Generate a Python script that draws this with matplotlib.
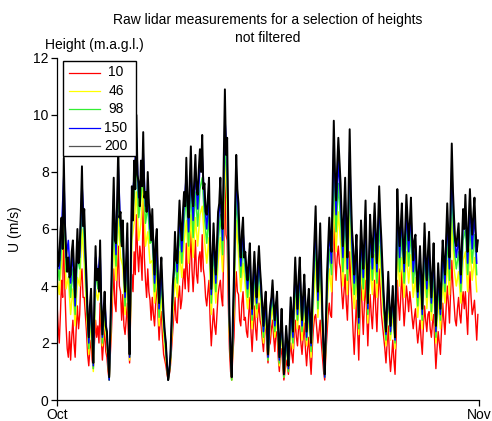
import matplotlib
matplotlib.use("Agg")
import matplotlib.pyplot as plt
import matplotlib.dates as mdates
from matplotlib.lines import Line2D
from matplotlib.patches import Rectangle
import pandas as pd

plt.rcParams['font.family'] = ['Liberation Sans', 'DejaVu Sans']

# Wind speed (m/s) through October, one row per day.
# 10 m and 200 m are 2-hourly; 46, 98 and 150 m are 4-hourly.
u10 = [
    3.4, 2.6, 2.0, 3.0, 4.2, 3.6, 6.4, 3.8, 2.6, 1.8, 1.5, 2.4,
    1.4, 2.2, 2.8, 2.0, 1.5, 2.6, 3.3, 2.5, 3.0, 4.2, 4.6, 3.6,
    3.6, 3.0, 2.4, 1.6, 1.2, 1.8, 2.1, 1.4, 1.1, 2.0, 2.8, 2.2,
    2.6, 2.0, 3.4, 2.2, 1.4, 2.0, 2.5, 1.7, 1.5, 1.0, 0.7, 1.6,
    2.4, 3.6, 4.6, 3.4, 3.1, 4.4, 5.4, 4.0, 3.8, 2.8, 3.7, 2.6,
    2.3, 2.8, 3.4, 2.2, 1.3, 3.2, 4.4, 3.8, 5.2, 4.4, 6.5, 5.2,
    4.5, 5.4, 5.0, 4.2, 7.3, 5.0, 4.2, 3.6, 4.6, 3.8, 3.5, 2.8,
    3.6, 3.0, 2.6, 3.4, 4.3, 3.0, 2.1, 2.8, 3.1, 2.2, 1.6, 1.4,
    1.2, 0.9, 0.7, 0.9, 1.2, 1.8, 2.4, 3.0, 3.6, 2.8, 2.7, 3.6,
    4.0, 3.2, 3.5, 4.2, 4.6, 3.9, 5.5, 4.4, 3.8, 4.8, 6.0, 4.6,
    3.8, 4.6, 5.6, 4.4, 4.1, 5.0, 5.2, 4.5, 5.8, 4.6, 4.3, 3.6,
    3.3, 3.8, 4.2, 2.8, 1.9, 2.6, 3.2, 2.6, 2.3, 3.0, 3.7, 4.0,
    4.2, 3.6, 3.3, 5.2, 8.0, 5.8, 5.6, 3.4, 1.8, 1.0, 0.7, 1.6,
    2.2, 3.6, 4.5, 3.8, 3.7, 2.8, 2.6, 3.4, 3.8, 2.8, 2.9, 2.4,
    2.2, 3.0, 3.6, 2.4, 1.7, 2.6, 3.3, 2.5, 2.1, 3.0, 3.4, 2.8,
    2.6, 2.1, 1.7, 2.4, 2.8, 1.8, 1.3, 1.9, 2.0, 2.5, 2.8, 2.2,
    1.7, 2.4, 2.3, 1.5, 1.0, 1.6, 1.8, 1.2, 0.7, 1.0, 1.4, 1.2,
    0.9, 1.5, 2.0, 1.6, 1.3, 2.2, 2.8, 2.2, 1.9, 2.6, 2.6, 2.0,
    1.6, 2.2, 2.7, 1.8, 1.2, 1.8, 2.2, 1.5, 0.9, 1.8, 2.5, 2.9,
    3.0, 2.5, 2.0, 2.4, 2.8, 2.0, 1.5, 1.0, 0.7, 1.6, 2.3, 3.0,
    3.4, 3.0, 2.9, 4.6, 6.6, 5.0, 4.2, 5.0, 5.4, 4.8, 4.6, 3.8,
    3.2, 3.8, 4.4, 3.4, 2.8, 4.0, 5.2, 4.2, 3.4, 2.4, 1.6, 2.6,
    3.5, 2.4, 1.4, 2.8, 4.3, 3.2, 2.3, 3.4, 4.2, 3.0, 1.9, 3.0,
    3.7, 3.0, 2.5, 3.4, 4.2, 3.2, 2.4, 3.6, 4.6, 3.8, 3.0, 2.6,
    2.2, 1.8, 1.3, 2.0, 2.6, 1.6, 1.0, 1.5, 2.1, 1.4, 0.9, 2.2,
    4.2, 3.4, 2.8, 3.6, 4.6, 3.4, 2.6, 3.2, 4.0, 3.6, 3.1, 3.8,
    3.4, 2.9, 2.5, 2.9, 3.2, 2.5, 2.0, 2.4, 2.8, 2.1, 1.6, 2.6,
    3.3, 2.8, 2.4, 3.0, 3.1, 2.5, 2.2, 2.7, 3.0, 2.0, 1.1, 1.8,
    2.4, 2.0, 1.6, 2.5, 3.4, 2.8, 2.3, 3.2, 4.0, 3.4, 2.7, 3.8,
    4.9, 4.0, 3.4, 2.8, 2.6, 3.2, 3.6, 3.0, 2.7, 3.4, 3.8, 3.2,
    3.8, 3.0, 2.3, 3.6, 4.5, 3.6, 3.0, 3.2, 3.5, 2.8, 2.1, 3.0,
]

u46 = [
    4.3, 3.7, 4.8, 6.9, 3.9, 4.3,
    3.0, 3.9, 2.6, 4.3, 4.0, 6.0,
    4.8, 3.2, 1.6, 2.9, 1.0, 3.9,
    3.5, 4.1, 1.9, 2.8, 2.0, 0.7,
    3.2, 5.7, 4.2, 6.5, 5.0, 4.7,
    3.0, 4.6, 1.4, 5.6, 6.2, 7.3,
    5.6, 6.2, 7.6, 5.4, 5.9, 4.8,
    4.9, 3.4, 4.4, 2.6, 3.7, 2.3,
    1.5, 0.7, 1.3, 3.0, 4.3, 3.6,
    5.2, 4.3, 5.5, 6.3, 4.8, 6.5,
    5.0, 6.4, 5.4, 6.5, 6.8, 5.6,
    4.8, 5.7, 3.0, 4.6, 3.4, 4.8,
    5.7, 4.5, 8.6, 6.8, 2.3, 0.7,
    3.3, 6.3, 5.1, 3.8, 4.8, 4.0,
    3.2, 4.2, 2.5, 3.9, 2.9, 4.0,
    3.2, 2.0, 3.0, 1.4, 2.6, 3.3,
    2.2, 2.9, 1.2, 2.5, 0.8, 2.0,
    1.0, 2.7, 1.8, 3.7, 2.5, 3.6,
    2.1, 3.3, 1.9, 3.0, 1.5, 3.3,
    4.8, 2.9, 4.4, 2.3, 0.8, 3.2,
    4.6, 3.8, 7.2, 5.2, 6.6, 5.5,
    4.0, 5.6, 3.7, 6.8, 4.3, 3.2,
    4.2, 2.3, 4.6, 3.5, 5.0, 2.7,
    4.7, 3.7, 5.1, 3.6, 5.4, 4.1,
    2.9, 1.9, 3.4, 2.1, 3.1, 1.8,
    5.3, 4.0, 5.0, 3.6, 5.2, 4.1,
    5.1, 3.6, 4.3, 2.9, 4.0, 2.5,
    4.5, 3.2, 4.3, 2.8, 4.0, 2.0,
    3.5, 2.5, 4.1, 3.4, 4.9, 3.7,
    6.4, 4.6, 4.0, 4.5, 3.4, 4.9,
    5.2, 3.8, 5.3, 4.2, 5.0, 3.8,
]

u98 = [
    4.9, 4.2, 5.4, 7.2, 4.5, 5.0,
    3.6, 4.6, 3.0, 5.0, 4.6, 6.9,
    5.6, 3.6, 1.8, 3.3, 1.1, 4.5,
    3.9, 4.7, 2.0, 3.2, 2.2, 0.7,
    3.6, 6.5, 4.7, 7.5, 5.6, 5.3,
    3.3, 5.2, 1.5, 6.3, 7.1, 8.4,
    6.4, 7.1, 7.9, 6.2, 6.8, 5.5,
    5.6, 3.8, 5.0, 2.9, 4.2, 2.6,
    1.7, 0.7, 1.4, 3.4, 4.9, 4.1,
    5.9, 4.8, 6.2, 7.2, 5.4, 7.4,
    5.7, 7.3, 6.1, 7.4, 7.8, 6.4,
    5.5, 6.5, 3.4, 5.3, 3.8, 5.5,
    6.5, 5.1, 9.0, 7.7, 2.6, 0.7,
    3.7, 7.2, 5.8, 4.3, 5.4, 4.5,
    3.6, 4.7, 2.8, 4.4, 3.2, 4.6,
    3.5, 2.2, 3.3, 1.4, 2.9, 3.6,
    2.4, 3.2, 1.3, 2.8, 0.8, 2.2,
    1.0, 3.0, 2.0, 4.2, 2.8, 4.2,
    2.4, 3.7, 2.1, 3.3, 1.7, 3.8,
    5.6, 3.2, 5.1, 2.6, 0.8, 3.6,
    5.3, 4.4, 8.1, 5.9, 7.6, 6.3,
    4.5, 6.5, 4.2, 7.8, 5.0, 3.7,
    4.8, 2.5, 5.2, 3.9, 5.8, 3.0,
    5.4, 4.2, 5.8, 4.1, 6.2, 4.7,
    3.2, 2.1, 3.8, 2.3, 3.4, 2.0,
    6.1, 4.5, 5.8, 4.1, 6.0, 4.7,
    5.9, 4.1, 4.9, 3.3, 4.6, 2.8,
    5.2, 3.6, 4.9, 3.1, 4.6, 2.2,
    4.0, 2.8, 4.7, 3.8, 5.7, 4.2,
    7.4, 5.3, 4.6, 5.2, 3.8, 5.6,
    6.0, 4.4, 6.1, 4.8, 5.8, 4.4,
]

u150 = [
    5.4, 4.6, 6.0, 7.9, 5.0, 5.6,
    4.1, 5.2, 3.3, 5.6, 5.0, 7.6,
    6.2, 4.0, 2.0, 3.6, 1.2, 5.0,
    4.3, 5.2, 2.2, 3.5, 2.3, 0.7,
    3.9, 7.2, 5.1, 8.2, 6.1, 5.8,
    3.6, 5.7, 1.5, 7.0, 7.8, 9.2,
    7.1, 7.8, 8.7, 6.8, 7.4, 6.0,
    6.2, 4.1, 5.5, 3.2, 4.6, 2.8,
    1.9, 0.7, 1.5, 3.7, 5.4, 4.5,
    6.5, 5.2, 6.8, 7.9, 5.9, 8.2,
    6.3, 8.0, 6.7, 8.2, 8.6, 7.0,
    6.0, 7.2, 3.7, 5.8, 4.1, 6.1,
    7.2, 5.6, 9.9, 8.5, 2.8, 0.8,
    4.1, 7.9, 6.4, 4.7, 5.9, 4.9,
    3.9, 5.1, 3.0, 4.8, 3.4, 5.0,
    3.8, 2.4, 3.5, 1.5, 3.1, 3.9,
    2.6, 3.5, 1.4, 3.0, 0.9, 2.4,
    1.1, 3.3, 2.2, 4.6, 3.0, 4.6,
    2.6, 4.1, 2.2, 3.6, 1.9, 4.2,
    6.2, 3.5, 5.7, 2.8, 0.8, 4.0,
    5.9, 4.8, 9.0, 6.5, 8.4, 7.0,
    5.0, 7.2, 4.6, 8.7, 5.5, 4.1,
    5.3, 2.7, 5.8, 4.3, 6.4, 3.2,
    6.0, 4.6, 6.4, 4.5, 6.9, 5.2,
    3.5, 2.3, 4.2, 2.4, 3.7, 2.1,
    6.8, 5.0, 6.4, 4.5, 6.6, 5.2,
    6.5, 4.5, 5.4, 3.6, 5.0, 3.0,
    5.7, 3.9, 5.4, 3.4, 5.1, 2.4,
    4.4, 3.0, 5.2, 4.1, 6.3, 4.6,
    8.2, 5.9, 5.0, 5.7, 4.1, 6.2,
    6.6, 4.8, 6.8, 5.3, 6.5, 4.8,
]

u200 = [
    5.8, 4.7, 4.9, 5.9, 6.4, 5.3, 8.5, 6.2, 5.3, 4.5, 5.0, 4.3,
    4.4, 5.2, 5.6, 4.6, 3.6, 4.9, 6.0, 4.8, 5.4, 6.6, 8.2, 6.1,
    6.7, 5.4, 4.3, 3.0, 2.2, 3.3, 3.9, 2.4, 1.3, 3.8, 5.4, 4.2,
    4.6, 3.8, 5.6, 3.4, 2.3, 3.1, 3.8, 2.6, 2.4, 1.6, 0.8, 2.5,
    4.2, 6.2, 7.8, 5.6, 5.5, 7.0, 8.9, 6.4, 6.6, 5.4, 6.3, 4.6,
    3.8, 5.0, 6.2, 3.4, 1.6, 4.8, 7.5, 6.3, 8.4, 7.4, 10.0, 7.9,
    7.6, 6.8, 8.4, 7.5, 9.4, 7.1, 7.3, 6.6, 8.0, 6.9, 6.5, 5.6,
    6.7, 5.3, 4.4, 5.6, 6.0, 4.2, 3.4, 4.4, 5.0, 3.9, 3.0, 2.4,
    2.0, 1.2, 0.7, 1.0, 1.6, 2.8, 4.0, 4.6, 5.9, 4.9, 4.8, 6.0,
    7.0, 6.1, 5.6, 6.6, 7.3, 6.8, 8.5, 7.0, 6.4, 7.6, 8.9, 7.2,
    6.8, 7.7, 8.6, 7.4, 7.2, 8.1, 8.8, 8.0, 9.3, 7.4, 7.6, 6.6,
    6.5, 7.1, 7.8, 5.6, 3.9, 5.0, 6.2, 5.2, 4.4, 5.5, 6.6, 6.9,
    7.8, 6.5, 6.0, 8.4, 10.9, 8.6, 9.2, 6.0, 3.0, 1.6, 0.8, 2.8,
    4.4, 6.8, 8.6, 7.4, 6.9, 5.6, 5.0, 5.9, 6.4, 5.0, 5.2, 4.6,
    4.2, 4.9, 5.5, 4.1, 3.2, 4.4, 5.2, 4.3, 3.6, 4.7, 5.4, 4.6,
    4.0, 3.3, 2.6, 3.4, 3.8, 2.7, 1.6, 2.8, 3.3, 3.6, 4.2, 3.4,
    2.8, 3.4, 3.8, 2.5, 1.5, 2.4, 3.2, 2.0, 0.9, 1.8, 2.6, 2.0,
    1.2, 2.5, 3.6, 3.0, 2.4, 3.8, 5.0, 4.0, 3.2, 4.3, 5.0, 3.8,
    2.8, 3.7, 4.4, 3.4, 2.4, 3.4, 3.9, 3.0, 2.0, 3.5, 4.6, 5.6,
    6.8, 5.0, 3.8, 5.0, 6.2, 4.6, 3.0, 1.8, 0.9, 2.6, 4.4, 5.4,
    6.4, 5.6, 5.2, 7.4, 9.8, 8.0, 7.0, 8.2, 9.2, 8.4, 7.6, 6.4,
    5.4, 6.6, 7.8, 6.2, 5.0, 7.2, 9.5, 7.4, 6.0, 5.4, 4.4, 5.0,
    5.8, 4.4, 2.9, 4.8, 6.3, 5.4, 4.6, 5.8, 7.0, 5.0, 3.4, 5.0,
    6.5, 5.6, 5.0, 6.0, 6.9, 5.8, 4.8, 6.2, 7.5, 6.4, 5.6, 4.6,
    3.7, 3.0, 2.4, 3.5, 4.5, 3.4, 2.6, 3.3, 4.0, 3.0, 2.2, 4.6,
    7.4, 6.2, 5.4, 6.1, 6.9, 5.6, 4.8, 6.0, 7.2, 6.4, 5.6, 6.2,
    7.1, 5.8, 4.9, 5.6, 5.8, 4.6, 3.8, 4.6, 5.4, 4.4, 3.2, 4.8,
    6.2, 5.0, 4.2, 5.2, 5.9, 4.6, 3.6, 4.6, 5.5, 4.0, 2.6, 3.6,
    4.8, 4.0, 3.2, 4.6, 5.6, 4.9, 4.4, 5.6, 6.9, 5.8, 5.0, 7.0,
    9.0, 7.4, 6.4, 5.6, 5.4, 5.8, 6.2, 5.2, 4.4, 5.6, 6.7, 6.0,
    7.2, 6.0, 5.2, 6.4, 7.4, 6.4, 5.8, 6.5, 7.1, 6.0, 5.2, 5.6,
]

heights = ["10", "46", "98", "150", "200"]
series = [u10, u46, u98, u150, u200]
steps = ["2h", "4h", "4h", "4h", "2h"]
colors = ["#ff0000", "#ffff00", "#33ee33", "#0000ff", "#000000"]
legend_colors = ["#ff0000", "#ffff00", "#33ee33", "#0000ff", "#555555"]
widths = [1.0, 1.1, 1.1, 1.1, 1.4]

start, end = pd.Timestamp("2013-10-01"), pd.Timestamp("2013-11-01")

W, H = 492, 421
fig = plt.figure(figsize=(W / 100, H / 100), dpi=100)
ax = fig.add_axes([57 / W, 1 - 400 / H, (479 - 57) / W, (400 - 58) / H])

for vals, step, c, lw in zip(series, steps, colors, widths):
    t = pd.date_range(start, periods=len(vals), freq=step)
    ax.plot(t, vals, color=c, lw=lw)

ax.set_xlim(start, end)
ax.set_ylim(0, 12)
ax.set_yticks([0, 2, 4, 6, 8, 10, 12])
ax.set_xticks([start, end])
ax.xaxis.set_major_formatter(mdates.DateFormatter("%b"))
for s in ("top", "right"):
    ax.spines[s].set_visible(False)
for s in ("left", "bottom"):
    ax.spines[s].set_linewidth(0.9)
ax.tick_params(axis="both", direction="out", length=4, width=0.9, labelsize=10)
ax.tick_params(axis="y", pad=2)
ax.tick_params(axis="x", pad=2)
ax.set_ylabel("U (m/s)", fontsize=10, labelpad=8)

fig.text(268 / W, 1 - 20 / H, "Raw lidar measurements for a selection of heights",
         ha="center", va="center", fontsize=10)
fig.text(268 / W, 1 - 38 / H, "not filtered", ha="center", va="center", fontsize=10)


def fx(x):
    return x / W


def fy(y):
    return 1 - y / H


# legend block, placed in figure pixel coordinates
fig.text(fx(45), fy(45), "Height (m.a.g.l.)", ha="left", va="center", fontsize=10)
fig.add_artist(Rectangle((fx(63), fy(156)), fx(136) - fx(63), fy(61) - fy(156),
                         transform=fig.transFigure, fill=True, facecolor="white",
                         edgecolor="black", lw=1.0))
rows = [72.5, 91, 109, 127.5, 146]
for lab, c, yr in zip(heights, legend_colors, rows):
    fig.add_artist(Line2D([fx(69), fx(100)], [fy(yr), fy(yr)], color=c, lw=0.9,
                          transform=fig.transFigure))
    fig.text(fx(116), fy(yr), lab, ha="center", va="center", fontsize=10)

fig.savefig("out.png", dpi=100)
